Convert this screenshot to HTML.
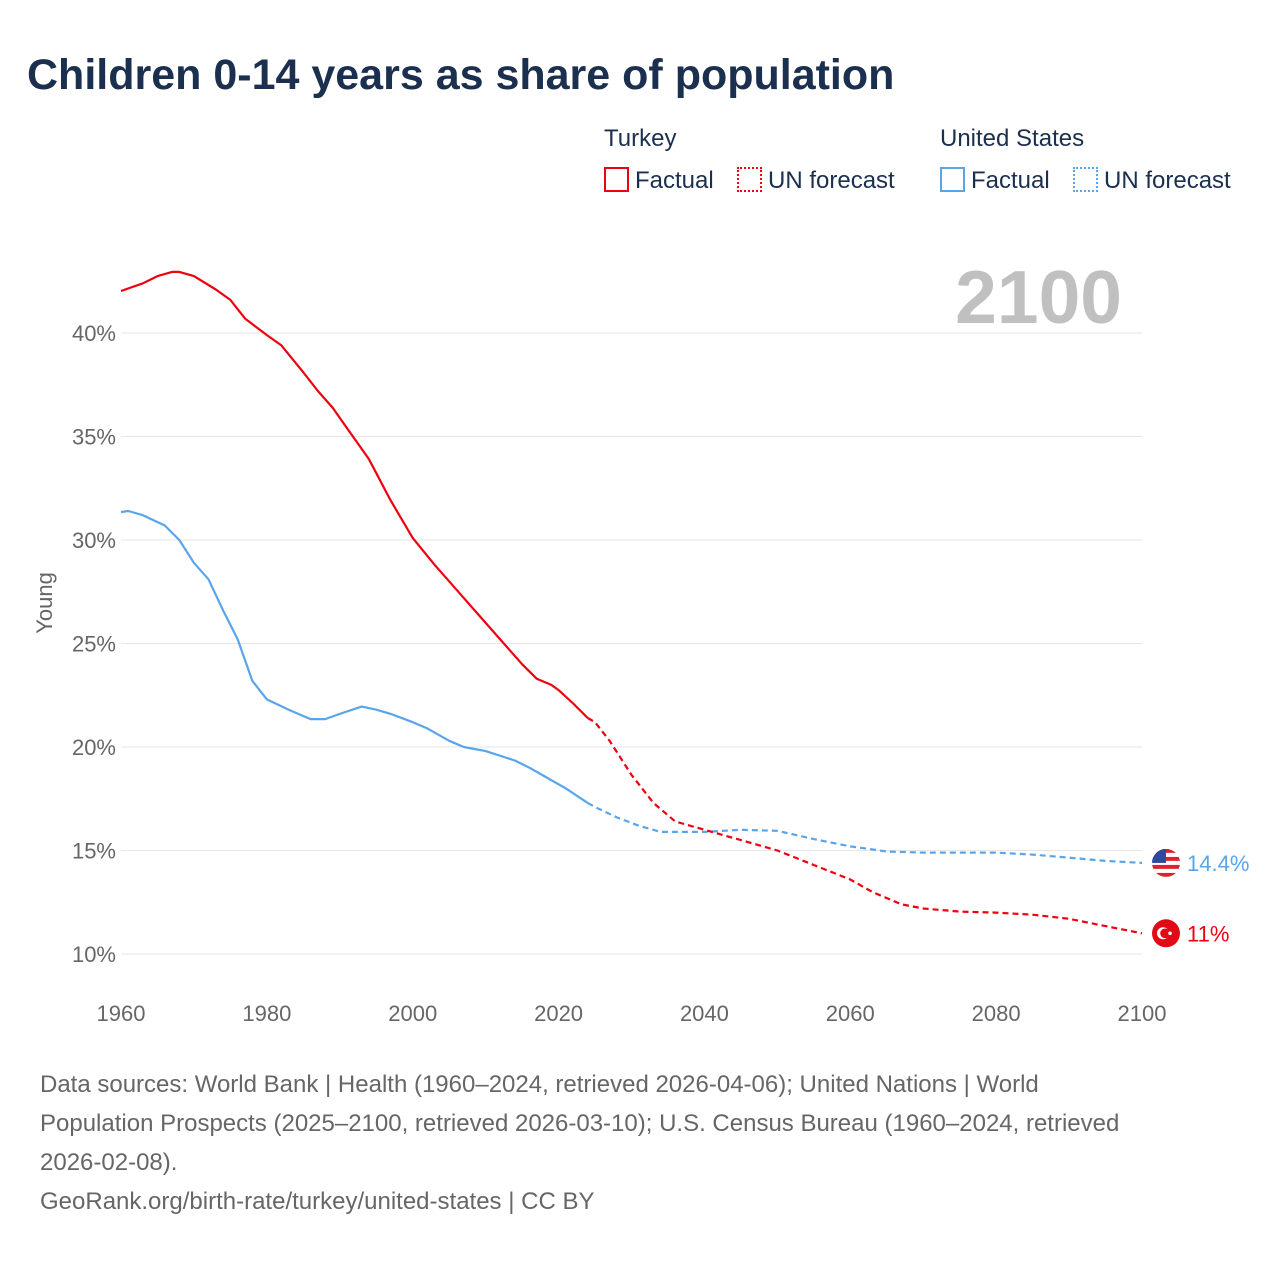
<!DOCTYPE html>
<html><head><meta charset="utf-8"><style>
body{margin:0;background:#fff;font-family:"Liberation Sans",sans-serif;}
#wrap{position:relative;width:1280px;height:1280px;overflow:hidden;}
.t{position:absolute;white-space:nowrap;}
</style></head><body>
<div id="wrap">
<div class="t" style="left:27px;top:51px;font-size:43px;font-weight:bold;color:#1b2f4f;">Children 0-14 years as share of population</div>
<div class="t" style="left:604px;top:125px;font-size:24px;color:#1b2f4f;">Turkey</div>
<div class="t" style="left:940px;top:125px;font-size:24px;color:#1b2f4f;">United States</div>
<div class="t" style="left:604px;top:167px;font-size:24px;color:#1b2f4f;"><span style="display:inline-block;width:25px;height:25px;border:2px solid #ee0010;box-sizing:border-box;vertical-align:-4px;margin-right:6px"></span>Factual</div>
<div class="t" style="left:737px;top:167px;font-size:24px;color:#1b2f4f;"><span style="display:inline-block;width:25px;height:25px;border:2px dotted #ee0010;box-sizing:border-box;vertical-align:-4px;margin-right:6px"></span>UN forecast</div>
<div class="t" style="left:940px;top:167px;font-size:24px;color:#1b2f4f;"><span style="display:inline-block;width:25px;height:25px;border:2px solid #5aa5ea;box-sizing:border-box;vertical-align:-4px;margin-right:6px"></span>Factual</div>
<div class="t" style="left:1073px;top:167px;font-size:24px;color:#1b2f4f;"><span style="display:inline-block;width:25px;height:25px;border:2px dotted #5aa5ea;box-sizing:border-box;vertical-align:-4px;margin-right:6px"></span>UN forecast</div>
<svg id="chart" width="1280" height="1280" style="position:absolute;left:0;top:0"></svg>
<div class="t" style="left:40px;top:1065px;font-size:24px;line-height:39px;color:#666;">Data sources: World Bank | Health (1960–2024, retrieved 2026-04-06); United Nations | World<br>Population Prospects (2025–2100, retrieved 2026-03-10); U.S. Census Bureau (1960–2024, retrieved<br>2026-02-08).<br>GeoRank.org/birth-rate/turkey/united-states | CC BY</div>
</div>
<script>
const trYears=[1960,1963,1965,1967,1968,1970,1973,1975,1977,1980,1982,1985,1987,1989,1991,1994,1997,2000,2003,2006,2009,2012,2015,2017,2019,2020,2022,2024];
const trVals=[42.03,42.4,42.75,42.95,42.95,42.75,42.1,41.6,40.7,39.9,39.4,38.1,37.2,36.4,35.4,33.9,31.9,30.1,28.8,27.6,26.4,25.2,24.0,23.3,23.0,22.75,22.1,21.4];
const trFYears=[2024,2025,2027,2030,2033,2036,2040,2045,2050,2055,2060,2063,2067,2070,2075,2080,2085,2090,2095,2100];
const trFVals=[21.4,21.2,20.3,18.65,17.3,16.4,16.0,15.5,15.0,14.3,13.6,13.0,12.4,12.2,12.05,12.0,11.9,11.7,11.35,11.0];
const usYears=[1960,1961,1963,1966,1968,1970,1972,1974,1976,1978,1980,1983,1986,1988,1990,1993,1995,1997,2000,2002,2005,2007,2010,2014,2016,2018,2021,2024];
const usVals=[31.35,31.4,31.2,30.7,30.0,28.9,28.1,26.6,25.2,23.2,22.3,21.8,21.35,21.35,21.6,21.95,21.8,21.6,21.2,20.9,20.3,20.0,19.8,19.35,19.0,18.6,18.0,17.3];
const usFYears=[2024,2025,2028,2031,2034,2040,2045,2050,2055,2060,2065,2070,2080,2085,2090,2095,2100];
const usFVals=[17.3,17.1,16.6,16.2,15.9,15.9,16.0,15.95,15.55,15.2,14.95,14.9,14.9,14.8,14.65,14.5,14.4];
const yTicks=[10,15,20,25,30,35,40];
const xTicks=[1960,1980,2000,2020,2040,2060,2080,2100];
const NS='http://www.w3.org/2000/svg';
const svg=document.getElementById('chart');
const X=y=>121+(y-1960)*(1021/140);
const Y=v=>954-(v-10)*20.7;
function mk(t,a){const e=document.createElementNS(NS,t);for(const k in a)e.setAttribute(k,a[k]);svg.appendChild(e);return e;}
yTicks.forEach(v=>{
 const l=mk('line',{x1:121,x2:1142,y1:Y(v),y2:Y(v),stroke:'#e6e6e6','stroke-width':1});
 
 
 const t=mk('text',{x:116,y:Y(v)+8,'text-anchor':'end','font-size':22,fill:'#666'});t.textContent=v+'%';
 
 
});
xTicks.forEach(v=>{
 const t=mk('text',{x:X(v),y:1021,'text-anchor':'middle','font-size':22,fill:'#666'});t.textContent=v;
 
 
});
const yt=mk('text',{x:0,y:0,transform:'translate(52,603) rotate(-90)','text-anchor':'middle','font-size':22,fill:'#666'});yt.textContent='Young';


const yr=mk('text',{x:1122,y:323,'text-anchor':'end','font-size':75,'font-weight':'bold',fill:'#c0c0c0'});yr.textContent='2100';


function line(xs,vs,c,dash,name){
 const p=mk('path',{d:xs.map((x,i)=>(i?'L':'M')+X(x).toFixed(1)+','+Y(vs[i]).toFixed(1)).join(''),fill:'none',stroke:c,'stroke-width':2.2,'stroke-linejoin':'round','stroke-dasharray':dash||'none'});
 
 
}
line(usYears,usVals,'#5aa5ea','','us-factual-line');
line(usFYears,usFVals,'#5aa5ea','6,4','us-forecast-line');
line(trYears,trVals,'#ee0010','','turkey-factual-line');
line(trFYears,trFVals,'#ee0010','6,4','turkey-forecast-line');
const uy=Y(usFVals[usFVals.length-1]), ty=Y(trFVals[trFVals.length-1]);
const cp=mk('clipPath',{id:'uc'});const cc=document.createElementNS(NS,'circle');cc.setAttribute('cx',1166);cc.setAttribute('cy',uy);cc.setAttribute('r',14);cp.appendChild(cc);
for(let i=0;i<7;i++){mk('rect',{x:1152,y:uy-14+i*4,width:28,height:4,fill:i%2?'#fff':'#e0202c','clip-path':'url(#uc)'});}
const uf=mk('rect',{x:1152,y:uy-14,width:14,height:14,fill:'#2a4aa0','clip-path':'url(#uc)'});


const ut=mk('text',{x:1187,y:uy+8,'font-size':22,fill:'#5aa5ea'});ut.textContent='14.4%';


const tc=mk('circle',{cx:1166,cy:ty,r:14,fill:'#e30a17'});


mk('circle',{cx:1163,cy:ty,r:6,fill:'#fff'});mk('circle',{cx:1165,cy:ty,r:4.8,fill:'#e30a17'});
mk('circle',{cx:1170,cy:ty,r:1.8,fill:'#fff'});
const tt=mk('text',{x:1187,y:ty+8,'font-size':22,fill:'#ee0010'});tt.textContent='11%';


</script>
</body></html>
